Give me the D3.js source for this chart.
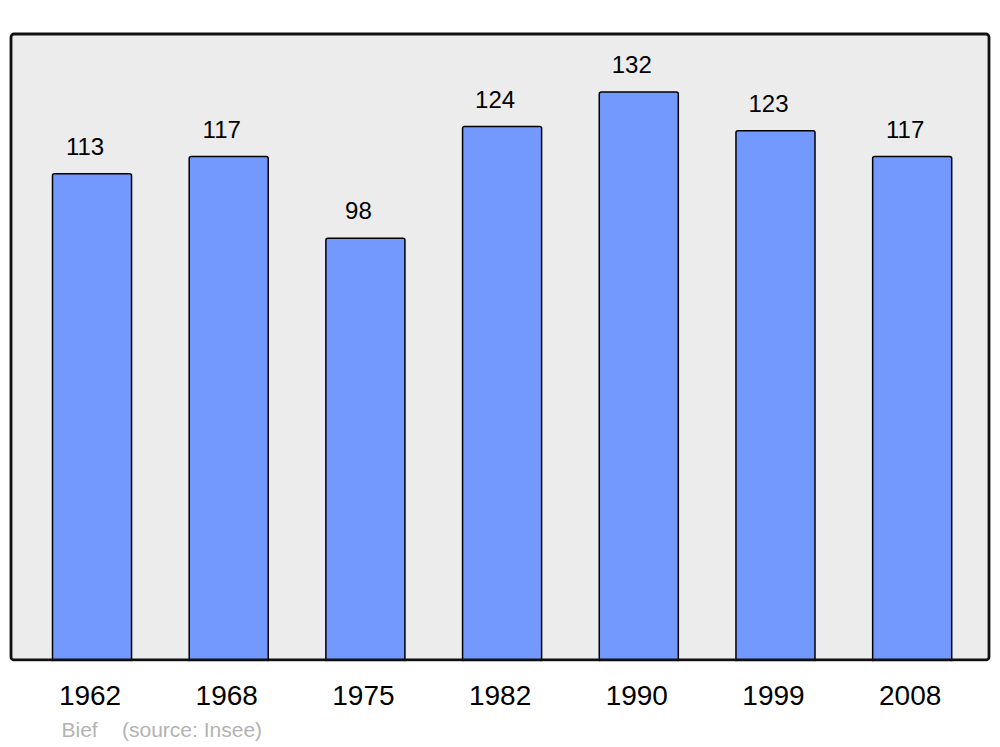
<!DOCTYPE html>
<html>
<head>
<meta charset="utf-8">
<script src="https://d3js.org/d3.v7.min.js"></script>
<style>
  body { margin: 0; background: #fff; }
  text { font-family: "Liberation Sans", Arial, sans-serif; }
</style>
</head>
<body>
<svg width="1000" height="747"></svg>
<script>
// population of Bief by census year
var years = ['1962', '1968', '1975', '1982', '1990', '1999', '2008'];
var population = [113, 117, 98, 124, 132, 123, 117];
var sourceText = ['Bief', '(source: Insee)'];

var data = years.map(function(d, i) { return {year: d, value: population[i]}; });

var svg = d3.select('svg');

var frame = {left: 11, top: 34, right: 989, bottom: 660};

var x = d3.scaleBand()
    .domain(years)
    .range([52.5, 951.7])
    .paddingInner(0.4217)
    .paddingOuter(0);

var y = d3.scaleLinear()
    .domain([0, 145.5])
    .range([frame.bottom, frame.top]);

// plot background
svg.append('rect')
    .attr('x', frame.left)
    .attr('y', frame.top)
    .attr('width', frame.right - frame.left)
    .attr('height', frame.bottom - frame.top)
    .attr('rx', 3)
    .attr('fill', '#ececec')
    .attr('stroke', 'none');

// bars
svg.append('g')
    .selectAll('rect')
    .data(data)
    .enter()
    .append('rect')
    .attr('x', function(d) { return x(d.year); })
    .attr('y', function(d) { return y(d.value); })
    .attr('width', x.bandwidth())
    .attr('height', function(d) { return y(0) - y(d.value) + 3; })
    .attr('rx', 2)
    .attr('fill', '#7399ff')
    .attr('stroke', '#000')
    .attr('stroke-width', 1.5);

// frame border on top so bar bottoms sit on it
svg.append('rect')
    .attr('x', frame.left)
    .attr('y', frame.top)
    .attr('width', frame.right - frame.left)
    .attr('height', frame.bottom - frame.top)
    .attr('rx', 3)
    .attr('fill', 'none')
    .attr('stroke', '#111')
    .attr('stroke-width', 2.8);

// cover bar overflow below frame
svg.append('rect')
    .attr('x', 0)
    .attr('y', frame.bottom + 1.4)
    .attr('width', 1000)
    .attr('height', 10)
    .attr('fill', '#fff');

// value labels
svg.append('g')
    .selectAll('text')
    .data(data)
    .enter()
    .append('text')
    .attr('x', function(d) { return x(d.year) + x.bandwidth() / 2 - 7; })
    .attr('y', function(d) { return y(d.value) - 19; })
    .attr('text-anchor', 'middle')
    .attr('font-size', 24)
    .attr('fill', '#000')
    .text(function(d) { return d.value; });

// year labels
svg.append('g')
    .selectAll('text')
    .data(years)
    .enter()
    .append('text')
    .attr('x', function(d) { return x(d) + x.bandwidth() / 2 - 2; })
    .attr('y', 705)
    .attr('text-anchor', 'middle')
    .attr('font-size', 28)
    .attr('fill', '#000')
    .text(function(d) { return d; });

// source
svg.append('text')
    .attr('x', 61.5)
    .attr('y', 737)
    .attr('font-size', 21)
    .attr('fill', '#b3b3b3')
    .text(sourceText[0]);
svg.append('text')
    .attr('x', 122)
    .attr('y', 737)
    .attr('font-size', 21)
    .attr('fill', '#b3b3b3')
    .text(sourceText[1]);
</script>
</body>
</html>
